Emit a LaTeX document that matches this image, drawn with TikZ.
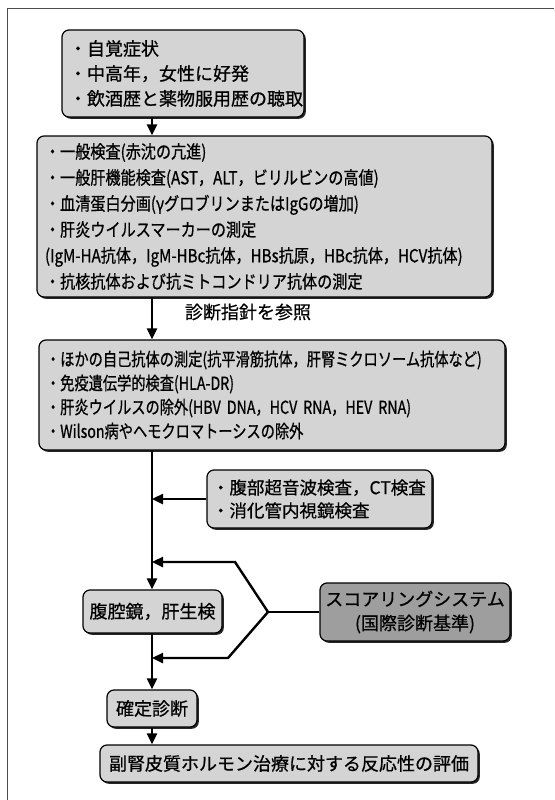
\documentclass[tikz,border=0pt]{standalone}
\usepackage{fontspec}
\setmainfont[FakeBold=0.7]{Noto Sans CJK JP}
\newfontfamily\jpn[FakeStretch=0.84,FakeBold=0.7]{Noto Sans CJK JP}
\newfontfamily\jpm[FakeStretch=0.79,FakeBold=0.7]{Noto Sans CJK JP}
\usetikzlibrary{arrows.meta,shadows}
\definecolor{boxgray}{gray}{0.83}
\definecolor{darkbox}{gray}{0.62}
\begin{document}
\begin{tikzpicture}[x=1pt,y=-1pt,
  bx/.style={draw=black, line width=1.2pt, rounded corners=7pt, fill=boxgray, inner sep=0pt,
    drop shadow={shadow xshift=1.8pt, shadow yshift=-1.8pt, fill=black!85, opacity=1}},
  arr/.style={line width=2.4pt, -{Triangle[length=11pt,width=10pt]}},
  ln/.style={line width=2.2pt},
  ]
\useasboundingbox (0,0) rectangle (554,800);
\draw[line width=0.8pt, black!70] (7,800) -- (7,8) -- (554,8);
\coordinate (m) at (152,0);

\node[bx, minimum width=242pt, minimum height=87pt, text width=228pt, align=left,
  font=\fontsize{18}{25}\selectfont] (b1) at (183,73.5)
  {・自覚症状\\・中高年，女性に好発\\・飲酒歴と薬物服用歴の聴取};

\node[bx, minimum width=455pt, minimum height=161pt, text width=439pt, align=left,
  font=\jpn\fontsize{18}{26}\selectfont] (b2) at (264.5,216.5)
  {・一般検査(赤沈の亢進)\\
   ・一般肝機能検査(AST，ALT，ビリルビンの高値)\\
   ・血清蛋白分画(γグロブリンまたはIgGの増加)\\
   ・肝炎ウイルスマーカーの測定\\
   (IgM-HA抗体，IgM-HBc抗体，HBs抗原，HBc抗体，HCV抗体)\\
   ・抗核抗体および抗ミトコンドリア抗体の測定};

\node[font=\fontsize{18}{24}\selectfont] (lab) at (248,312) {診断指針を参照};

\node[bx, minimum width=466pt, minimum height=110pt, text width=452pt, align=left,
  font=\jpm\fontsize{18}{24}\selectfont] (b3) at (272,395)
  {・ほかの自己抗体の測定(抗平滑筋抗体，肝腎ミクロソーム抗体など)\\
   ・免疫遺伝学的検査(HLA-DR)\\
   ・肝炎ウイルスの除外(HBV DNA，HCV RNA，HEV RNA)\\
   ・Wilson病やヘモクロマトーシスの除外};

\node[bx, minimum width=225pt, minimum height=58pt, text width=215pt, align=left,
  font=\fontsize{17.5}{23}\selectfont] (bk) at (319.5,499)
  {・腹部超音波検査，CT検査\\・消化管内視鏡検査};

\node[bx, minimum width=139pt, minimum height=43pt, align=center,
  font=\fontsize{18}{24}\selectfont] (b4) at (152.5,611.5) {腹腔鏡，肝生検};

\node[bx, fill=darkbox, minimum width=190pt, minimum height=58pt, align=center,
  font=\fontsize{18}{24}\selectfont] (sc) at (415,612)
  {スコアリングシステム\\(国際診断基準)};

\node[bx, minimum width=90pt, minimum height=37pt, align=center,
  font=\fontsize{18}{24}\selectfont] (b5) at (152,708.5) {確定診断};

\node[bx, minimum width=378pt, minimum height=37pt, align=center,
  font=\fontsize{18}{24}\selectfont] (b6) at (289,763.5)
  {副腎皮質ホルモン治療に対する反応性の評価};

\draw[arr] (b1.south -| m) -- (b2.north -| m);
\draw[arr] (b2.south -| m) -- (b3.north -| m);
\draw[arr] (b3.south -| m) -- (b4.north -| m);
\draw[arr] (bk.west) -- (bk.west -| m);
\coordinate (f) at (268,612);
\coordinate (fu) at (235,562);
\coordinate (fd) at (228,658);
\draw[ln] (sc.west) -- (f);
\draw[arr] (f) -- (fu) -- (fu -| m);
\draw[arr] (f) -- (fd) -- (fd -| m);
\draw[arr] (b4.south -| m) -- (b5.north -| m);
\draw[arr] (b5.south -| m) -- (b6.north -| m);
\end{tikzpicture}
\end{document}
